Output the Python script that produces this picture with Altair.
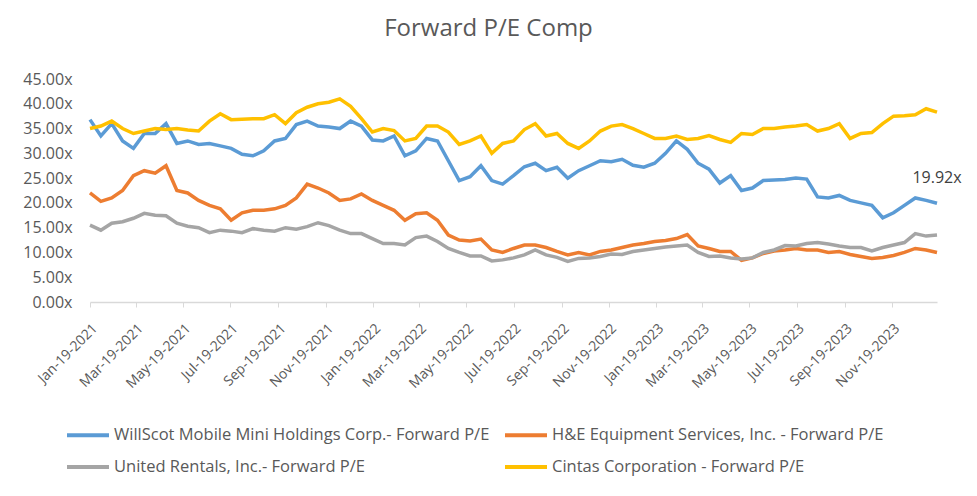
import altair as alt
import pandas as pd

FONT = "Open Sans"
TEXT_COLOR = "#595959"

series_names = [
    "WillScot Mobile Mini Holdings Corp.- Forward P/E",
    "H&E Equipment Services, Inc. - Forward P/E",
    "United Rentals, Inc.- Forward P/E",
    "Cintas Corporation - Forward P/E",
]
series_colors = ["#5B9BD5", "#ED7D31", "#A5A5A5", "#FFC000"]

# bi-weekly observation dates, Jan-19-2021 .. Jan-16-2024
dates = pd.date_range("2021-01-19", periods=79, freq="14D")

willscot = [36.8, 33.5, 36.0, 32.5, 31.0, 34.0, 34.0, 36.0, 32.0, 32.5, 31.8, 32.0, 31.5, 31.0, 29.8, 29.5,
            30.5, 32.5, 33.0, 35.8, 36.5, 35.5, 35.3, 35.0, 36.5, 35.5, 32.7, 32.5, 33.5, 29.5, 30.5, 33.0,
            32.5, 28.5, 24.5, 25.3, 27.5, 24.5, 23.8, 25.5, 27.3, 28.0, 26.5, 27.2, 25.0, 26.5, 27.5, 28.5,
            28.3, 28.8, 27.6, 27.2, 28.0, 30.0, 32.5, 30.8, 28.0, 26.8, 24.0, 25.5, 22.5, 23.0, 24.5,
            24.6, 24.7, 25.0, 24.8, 21.2, 21.0, 21.5, 20.5, 20.0, 19.5, 17.0, 18.0, 19.5, 21.0, 20.5, 19.92]
he_equipment = [22.0, 20.3, 21.0, 22.5, 25.5, 26.5, 26.0, 27.5, 22.5, 22.0, 20.5, 19.5, 18.8, 16.5, 18.0, 18.5,
                18.5, 18.8, 19.5, 21.0, 23.8, 23.0, 22.0, 20.5, 20.8, 21.8, 20.5, 19.5, 18.5, 16.5, 17.8, 18.0,
                16.5, 13.5, 12.5, 12.3, 12.7, 10.5, 10.0, 10.8, 11.5, 11.5, 11.0, 10.2, 9.5, 10.0, 9.5, 10.2,
                10.5, 11.0, 11.5, 11.8, 12.2, 12.4, 12.8, 13.6, 11.3, 10.8, 10.2, 10.2, 8.4, 8.9, 9.8,
                10.3, 10.5, 10.8, 10.5, 10.5, 10.0, 10.2, 9.6, 9.2, 8.8, 9.0, 9.4, 10.0, 10.8, 10.5, 10.0]
united_rentals = [15.5, 14.5, 15.9, 16.2, 16.9, 17.9, 17.5, 17.4, 15.9, 15.3, 15.0, 14.0, 14.5, 14.3, 14.0, 14.8,
                  14.5, 14.3, 15.0, 14.7, 15.2, 16.0, 15.4, 14.5, 13.8, 13.8, 12.8, 11.8, 11.8, 11.5, 13.0, 13.3,
                  12.2, 10.8, 10.0, 9.3, 9.3, 8.3, 8.5, 8.9, 9.5, 10.5, 9.5, 9.0, 8.2, 8.8, 8.9, 9.2,
                  9.7, 9.6, 10.2, 10.5, 10.8, 11.1, 11.3, 11.5, 10.0, 9.2, 9.3, 8.9, 8.7, 8.9, 10.0,
                  10.5, 11.4, 11.3, 11.8, 12.0, 11.7, 11.3, 11.0, 11.0, 10.3, 11.0, 11.5, 12.0, 13.8, 13.3, 13.5]
cintas = [35.0, 35.5, 36.5, 35.0, 34.0, 34.5, 35.0, 34.8, 35.0, 34.7, 34.5, 36.5, 38.0, 36.8, 36.9, 37.0,
          37.0, 37.8, 36.0, 38.2, 39.3, 40.0, 40.3, 41.0, 39.5, 37.0, 34.3, 35.0, 34.6, 32.5, 33.0, 35.5,
          35.5, 34.3, 31.8, 32.5, 33.5, 30.0, 32.0, 32.5, 34.8, 36.0, 33.5, 34.0, 32.0, 31.0, 32.5, 34.5,
          35.5, 35.8, 35.0, 34.0, 33.0, 33.0, 33.5, 32.8, 33.0, 33.6, 32.8, 32.2, 34.0, 33.8, 35.0,
          35.0, 35.3, 35.5, 35.8, 34.5, 35.0, 36.0, 33.0, 34.0, 34.2, 36.0, 37.5, 37.6, 37.8, 39.0, 38.3]

y_ticks = [0, 5, 10, 15, 20, 25, 30, 35, 40, 45]
x_tick_months = [(2021, 1), (2021, 3), (2021, 5), (2021, 7), (2021, 9), (2021, 11),
                 (2022, 1), (2022, 3), (2022, 5), (2022, 7), (2022, 9), (2022, 11),
                 (2023, 1), (2023, 3), (2023, 5), (2023, 7), (2023, 9), (2023, 11)]

frames = []
for name, vals in zip(series_names, [willscot, he_equipment, united_rentals, cintas]):
    frames.append(pd.DataFrame({"date": dates, "series": name, "value": vals}))
df = pd.concat(frames, ignore_index=True)

last_df = pd.DataFrame({"date": [dates[-1]], "value": [willscot[-1]],
                        "label": [f"{willscot[-1]:.2f}x"]})

x_scale = alt.Scale(domain=[alt.DateTime(year=2021, month=1, date=19),
                            alt.DateTime(year=2024, month=1, date=16)])
y_scale = alt.Scale(domain=[0, 45], nice=False)

x_axis = alt.Axis(values=[alt.DateTime(year=y, month=m, date=19) for y, m in x_tick_months],
                  format="%b-%d-%Y", labelAngle=-45, title=None, grid=False,
                  domainColor="#d9d9d9", domainWidth=1.5, tickColor="#d9d9d9", tickSize=5,
                  labelColor=TEXT_COLOR, labelFontSize=14, labelFont=FONT, labelPadding=14,
                  labelOverlap=False, labelFlush=False)
y_axis = alt.Axis(values=y_ticks, labelExpr="format(datum.value, '.2f') + 'x'", title=None,
                  grid=False, domain=False, ticks=False, labelPadding=18, labelOverlap=False,
                  labelColor=TEXT_COLOR, labelFontSize=16, labelFont=FONT)

lines = alt.Chart(df).mark_line(strokeWidth=3.5).encode(
    x=alt.X("date:T", scale=x_scale, axis=x_axis),
    y=alt.Y("value:Q", scale=y_scale, axis=y_axis),
    color=alt.Color("series:N", scale=alt.Scale(domain=series_names, range=series_colors),
                    legend=alt.Legend(title=None, orient="none", legendX=-25, legendY=333,
                                      direction="horizontal",
                                      columns=2, symbolType="stroke", symbolStrokeWidth=4,
                                      symbolSize=1764, labelFontSize=16.5, labelFont=FONT,
                                      labelColor=TEXT_COLOR, labelLimit=0, columnPadding=7,
                                      rowPadding=-6, labelOffset=3)),
    detail="series:N",
)

label = alt.Chart(last_df).mark_text(dy=-25, fontSize=16, font=FONT, color="#404040").encode(
    x=alt.X("date:T", scale=x_scale, axis=x_axis),
    y=alt.Y("value:Q", scale=y_scale, axis=y_axis),
    text="label:N",
)

chart = alt.layer(lines, label).properties(
    width=847, height=223,
    padding={"left": 82, "top": 71, "right": 32, "bottom": 186},
    autosize=alt.AutoSizeParams(type="none"),
    title=alt.Title("Forward P/E Comp", anchor="middle", dx=-25, offset=30, fontSize=24,
                    font=FONT, color=TEXT_COLOR, fontWeight="normal"),
).configure_view(stroke=None)

chart.save("out.html", embed_options={"renderer": "svg", "actions": False})
